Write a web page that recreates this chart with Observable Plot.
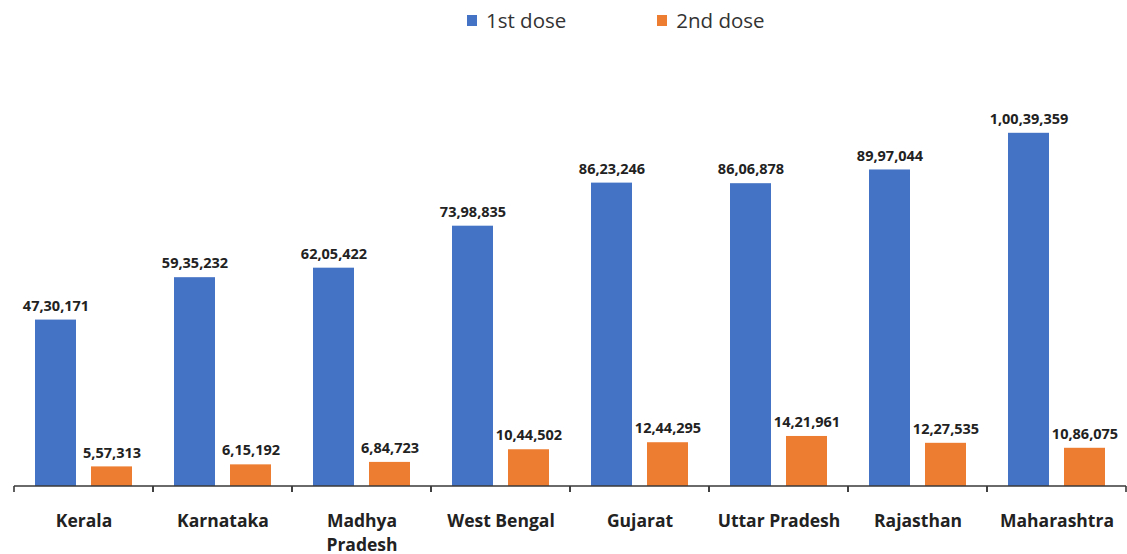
<!DOCTYPE html>
<html><head><meta charset="utf-8">
<script src="https://cdn.jsdelivr.net/npm/d3@7"></script>
<script src="https://cdn.jsdelivr.net/npm/@observablehq/plot@0.6"></script>
<style>
body{margin:0;background:#fff;font-family:"Open Sans",sans-serif;}
#legend{height:40px;display:flex;align-items:center;padding-left:467px;font-size:20.5px;color:#333;}
.item{display:flex;align-items:center;}
.item + .item{margin-left:91px;}
.sw{width:10px;height:11px;margin-right:9px;}
</style></head><body><div id="legend"></div><div id="chart"></div>
<script>
const states = ["Kerala","Karnataka","Madhya Pradesh","West Bengal","Gujarat","Uttar Pradesh","Rajasthan","Maharashtra"];
const dose1 = [4730171,5935232,6205422,7398835,8623246,8606878,8997044,10039359];
const dose2 = [557313,615192,684723,1044502,1244295,1421961,1227535,1086075];
const doses = ["1st dose","2nd dose"];
const colors = ["#4472C4","#ED7D31"];

const data = states.flatMap((s,i)=>[{state:s,dose:doses[0],value:dose1[i]},{state:s,dose:doses[1],value:dose2[i]}]);
function fmtIN(n){const s=String(n); if(s.length<=3) return s; const last3=s.slice(-3); let rest=s.slice(0,-3); const parts=[]; while(rest.length>2){parts.unshift(rest.slice(-2)); rest=rest.slice(0,-2);} if(rest) parts.unshift(rest); return parts.join(",")+","+last3;}

const legend=d3.select("#legend");
doses.forEach((d,i)=>{const it=legend.append("div").attr("class","item"); it.append("div").attr("class","sw").style("background",colors[i]); it.append("span").text(d);});

function axisLine(index, scales, values, dimensions){
  const sx = scales.x;
  const r = sx && sx.range ? sx.range() : [dimensions.marginLeft, dimensions.width-dimensions.marginRight];
  const y0 = scales.y(0);
  const g = d3.create("svg:g").attr("stroke","#3a3a3a").attr("stroke-width",1.6).attr("fill","none");
  g.append("path").attr("d",`M${r[0]},${y0}H${r[1]}M${r[0]},${y0}v6M${r[1]},${y0}v6`);
  return g.node();
}

const plot = Plot.plot({
  width:1127, height:514, marginLeft:14, marginRight:1, marginTop:59, marginBottom:68,
  style:{fontFamily:"Open Sans", background:"#fff", overflow:"visible"},
  fx:{domain:states, padding:0, label:null, axis:null},
  x:{domain:doses, paddingInner:0.268, paddingOuter:0.375, axis:null},
  y:{domain:[0,11e6], axis:null},
  color:{domain:doses, range:colors},
  marks:[
    Plot.barY(data,{fx:"state", x:"dose", y:"value", fill:"dose"}),
    Plot.text(data,{fx:"state", x:"dose", y:"value", text:d=>fmtIN(d.value), dy:-14, fontWeight:"bold", fontSize:14.5, fill:"#222"}),
    axisLine,
    Plot.axisFx({anchor:"bottom", tickSize:0, tickPadding:24, fontSize:17.5, fontWeight:"bold", fill:"#222", lineHeight:1.35, label:null,
      tickFormat:d=> d==="Madhya Pradesh" ? "Madhya\nPradesh" : d})
  ]
});
document.getElementById("chart").appendChild(plot);
</script></body></html>
